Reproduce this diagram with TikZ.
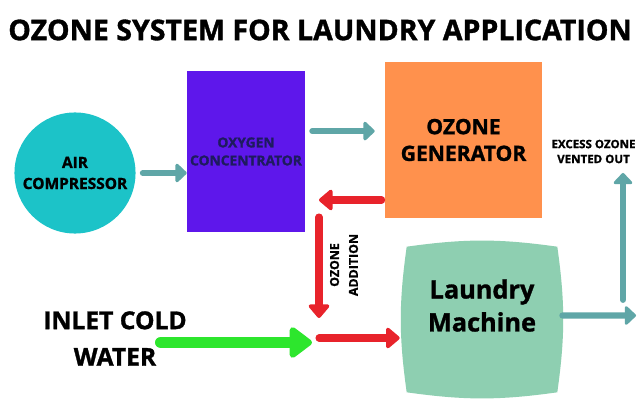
\documentclass[tikz,border=0pt]{standalone}
\usepackage{fontspec}
\setmainfont{Open Sans}[BoldFeatures={FakeBold=1.2}]
\usepackage{xcolor}
\usepackage{tikz}
\usetikzlibrary{arrows.meta}
\usetikzlibrary{positioning}

\definecolor{aircyan}{HTML}{1CC3C8}
\definecolor{oxypurple}{HTML}{5E17EB}
\definecolor{oxytext}{HTML}{1E1B5E}
\definecolor{genorange}{HTML}{FF914D}
\definecolor{washgreen}{HTML}{8ECFB1}
\definecolor{pipeteal}{HTML}{5FA6A7}
\definecolor{pipered}{HTML}{E8232B}
\definecolor{pipegreen}{HTML}{2DE62D}

\begin{document}
\begin{tikzpicture}[x=0.025cm, y=-0.025cm,
    tealpipe/.style={pipeteal, line width=4.3pt, line cap=round, -{Triangle[length=8.5pt, width=15.5pt, round]}},
    redpipe/.style={pipered, line width=5pt, line cap=round, -{Triangle[length=10.5pt, width=17pt, round]}},
    greenpipe/.style={pipegreen, line width=8.5pt, line cap=round, -{Triangle[length=17.5pt, width=25pt, round]}}]
        \useasboundingbox (0,0) rectangle (640,400);
        \fill[white] (0,0) rectangle (640,400);

        % Titolo
        \node[font=\fontsize{20.3}{24}\selectfont\bfseries] (title) at (320,30) {OZONE SYSTEM FOR LAUNDRY APPLICATION};

        % Blocchi
        \node[circle, fill=aircyan, minimum size=2.75cm, align=center, font=\fontsize{11}{15}\selectfont\bfseries] (air) at (75,173) {AIR\\COMPRESSOR};
        \node[fill=oxypurple, minimum width=2.95cm, minimum height=4.025cm, inner sep=1pt, align=center, text=oxytext, font=\fontsize{9.8}{12.8}\selectfont\bfseries] (oxygen) at (246,151.5) {OXYGEN\\CONCENTRATOR};
        \node[fill=genorange, minimum width=3.925cm, minimum height=3.9cm, align=center, font=\fontsize{15}{19}\selectfont\bfseries] (ozone) at (463.5,140) {OZONE\\GENERATOR};
        \node[minimum width=3.75cm, minimum height=3.625cm] (laundry) at (482,319.5) {};
        \fill[washgreen] (laundry.north west) to[bend left=8] (laundry.north east)
            to[bend left=8] (laundry.south east)
            to[bend left=8] (laundry.south west)
            to[bend left=8] (laundry.north west) -- cycle;
        \node[align=center, font=\fontsize{18}{23.4}\selectfont\bfseries] (washlabel) at ([yshift=3.5mm]laundry.center) {Laundry\\Machine};

        % Etichette
        \node[align=center, font=\fontsize{17.5}{26}\selectfont\bfseries] (inlet) at (115,338.5) {INLET COLD\\WATER};
        \node[align=center, font=\fontsize{8.2}{10.6}\selectfont\bfseries] (excess) at (593.5,151.5) {EXCESS OZONE\\VENTED OUT};
        \node[rotate=90, align=center, font=\fontsize{8.8}{13.5}\selectfont\bfseries] (addlabel) at (344,265) {OZONE\\ADDITION};

        % Punti di raccordo
        \coordinate (split) at (319,200);
        \coordinate (mix) at (319,338);
        \coordinate (watersrc) at (161,342.5);
        \coordinate (vent) at (623,315.5);
        \coordinate (ventout) at (636,315.5);
        \coordinate (venttop) at (623,173);

        % Frecce
        \draw[tealpipe, shorten <=1.75mm] (air.east) -- (air.east -| oxygen.west);
        \draw[tealpipe, shorten <=1.75mm, shorten >=2.5mm] ([yshift=5.1mm]oxygen.east) -- ([yshift=5.1mm]oxygen.east -| ozone.west);
        \draw[redpipe, shorten <=0.75mm] (ozone.west |- split) -- (split);
        \draw[redpipe, shorten <=4.25mm, shorten >=5mm] (split) -- (mix);
        \draw[redpipe, shorten >=1.75mm] (mix) -- (mix -| laundry.west);
        \draw[greenpipe, shorten >=1.75mm] (watersrc) -- (watersrc -| mix);
        \draw[tealpipe, shorten <=1.25mm] ([yshift=1mm]laundry.east) -- (ventout);
        \draw[tealpipe, shorten <=3.9mm] (vent) -- (venttop);
\end{tikzpicture}
\end{document}
